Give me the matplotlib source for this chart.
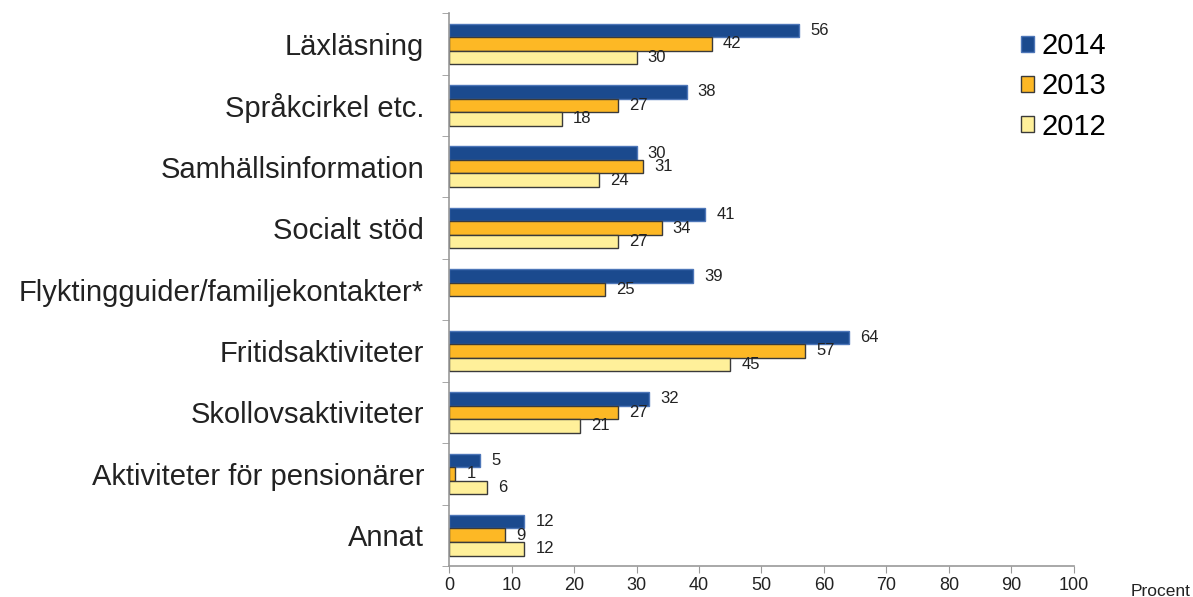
import numpy as np
import matplotlib.pyplot as plt
from matplotlib.patches import Patch

plt.rcParams['font.family'] = ['Liberation Sans', 'DejaVu Sans']

categories = ["Läxläsning", "Språkcirkel etc.", "Samhällsinformation", "Socialt stöd",
              "Flyktingguider/familjekontakter*", "Fritidsaktiviteter",
              "Skollovsaktiviteter", "Aktiviteter för pensionärer", "Annat"]
years = ["2014", "2013", "2012"]
v2014 = [56, 38, 30, 41, 39, 64, 32, 5, 12]
v2013 = [42, 27, 31, 34, 25, 57, 27, 1, 9]
v2012 = [30, 18, 24, 27, None, 45, 21, 6, 12]

colors = ["#1B4A8E", "#FDB825", "#FFF09A"]
edges = ["#4D76B8", "#3A3A3A", "#3A3A3A"]

fig = plt.figure(figsize=(11.93, 5.97), dpi=100)
ax = fig.add_axes([0.3764, 0.052, 0.5238, 0.926])

y = np.arange(len(categories))
h = 0.22
for i, (vals, col, ec) in enumerate(zip([v2014, v2013, v2012], colors, edges)):
    pos = y + (i - 1) * h
    for p, v in zip(pos, vals):
        if v is None:
            continue
        ax.barh(p, v, height=h, color=col, edgecolor=ec, linewidth=1)
        ax.text(v + 1.8, p, str(v), va='center', ha='left', fontsize=12, color='#222222')

ax.set_xlim(0, 100)
ax.set_ylim(len(categories) - 0.5, -0.5)
ax.set_xticks(range(0, 101, 10))
ax.tick_params(axis='x', labelsize=13, colors='#222222', length=5, color='#999999', pad=3)

ax.set_yticks(y)
ax.set_yticklabels(categories, fontsize=21, color='#222222')
ax.tick_params(axis='y', which='major', length=0, pad=18)
ax.set_yticks(np.arange(-0.5, len(categories), 1), minor=True)
ax.tick_params(axis='y', which='minor', length=5, color='#999999')

for s in ['top', 'right']:
    ax.spines[s].set_visible(False)
for s in ['left', 'bottom']:
    ax.spines[s].set_color('#999999')
    ax.spines[s].set_linewidth(1.2)

handles = [Patch(facecolor=c, edgecolor=e, linewidth=1) for c, e in zip(colors, edges)]
fig.legend(handles, years, loc='upper left', bbox_to_anchor=(0.834, 0.99), frameon=False,
           fontsize=21, handlelength=0.45, handleheight=0.45, handletextpad=0.25,
           labelspacing=0.42)

fig.text(0.948, -0.003, "Procent", fontsize=12.5, color='#222222', ha='left', va='bottom')

fig.savefig("out.png", dpi=100)
